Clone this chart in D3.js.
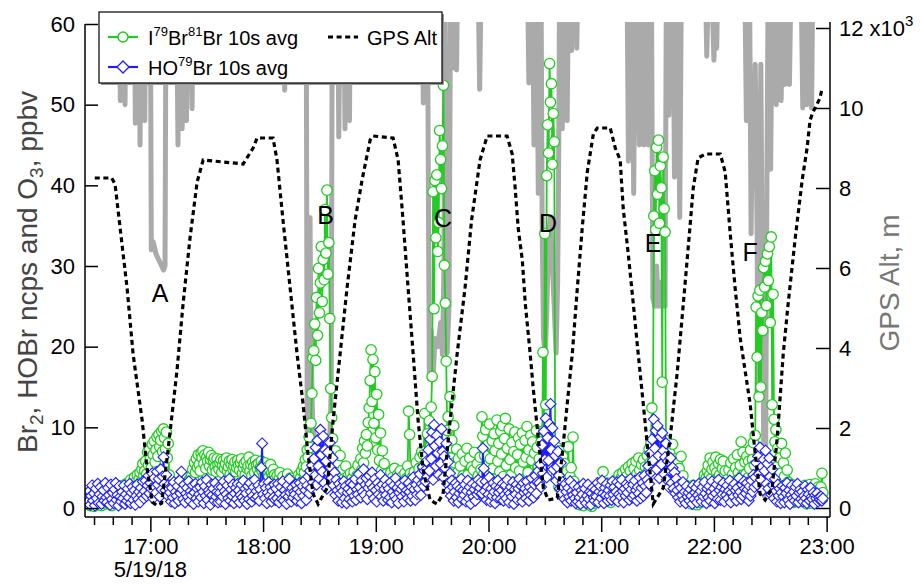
<!DOCTYPE html>
<html><head><meta charset="utf-8">
<script src="https://cdn.jsdelivr.net/npm/d3@7"></script>
<style>
body{margin:0;background:#fff;}
svg{display:block;font-family:"Liberation Sans",Arial,Helvetica,sans-serif;}
</style></head><body>
<svg id="chart" width="922" height="585"></svg>
<script>
// ---------------- DATA ----------------
// 10 s averaged signals, read at 30 s steps starting 16:27 (minutes after 16:00)
const seriesStartMin = 27;
const seriesStepMin = 0.5;

// I79Br81Br (Br2) signal, ncps
const brValues = [
0.5,1.2,0.3,2.0,0.8,1.5,0.2,1.0,2.4,0.6,1.3,0.4,1.8,0.9,0.3,1.6,2.2,0.7,1.1,0.5,
1.4,0.6,2.1,0.9,1.7,0.3,1.2,2.5,0.8,1.5,1.0,2.3,0.5,1.8,2.7,1.2,0.7,2.0,1.4,2.9,
1.6,2.4,3.1,1.9,2.8,3.5,2.2,1.5,3.0,3.8,2.6,3.3,4.1,2.9,3.6,4.4,3.2,4.8,5.5,4.0,
4.6,5.8,4.2,6.9,5.3,7.4,6.1,5.0,7.9,6.6,8.3,5.7,7.2,8.8,6.4,9.1,7.6,8.4,9.5,7.0,
9.8,8.7,7.3,9.4,6.2,8.0,4.1,2.6,1.4,2.8,1.1,2.5,1.8,0.9,2.7,1.5,3.2,2.0,1.2,2.6,
3.0,1.6,2.4,1.0,2.9,1.8,3.3,2.2,3.6,2.7,4.0,4.8,3.5,5.6,4.4,6.1,5.0,6.6,5.4,4.6,
6.8,6.2,7.1,5.5,6.6,4.9,6.3,5.8,6.9,5.2,6.0,6.5,4.7,5.9,6.2,5.1,4.5,6.1,5.4,4.8,
5.6,6.0,4.4,5.3,5.9,4.9,5.5,6.2,4.6,5.1,5.8,4.2,5.4,6.0,4.8,5.2,5.7,4.5,5.0,5.9,
5.3,4.7,5.6,6.1,4.3,5.0,5.5,4.1,5.8,4.9,5.2,6.3,4.6,5.4,4.0,5.7,5.1,4.4,5.9,5.3,
4.8,5.5,4.2,5.0,5.8,4.6,5.3,4.0,5.6,4.9,4.4,5.1,3.8,4.7,5.4,4.3,3.9,4.8,4.1,3.6,
3.2,4.0,2.7,3.6,4.4,2.3,3.1,3.9,2.6,1.8,3.4,2.9,4.2,2.1,3.0,3.7,2.4,1.6,3.3,2.8,
2.5,3.5,1.9,3.0,4.1,2.6,3.8,4.6,3.3,5.2,4.4,6.0,5.1,7.2,6.3,8.8,7.5,10.5,14.2,18.6,
19.5,22.8,18.3,26.1,21.4,29.7,24.2,27.9,32.4,25.6,30.8,28.3,37.0,31.6,39.4,29.0,32.9,23.5,14.8,11.2,
8.6,6.3,4.9,7.1,3.8,5.6,2.9,4.4,6.5,3.3,2.4,4.8,3.6,2.1,5.2,2.8,3.9,1.7,3.0,4.3,
2.6,3.7,1.9,4.5,3.1,2.2,4.0,5.3,3.4,2.8,6.1,4.7,7.4,5.6,8.3,6.8,9.1,7.7,10.6,12.4,
15.8,19.6,13.2,18.4,10.5,16.9,8.7,14.1,7.2,11.6,5.9,9.3,4.6,7.1,3.8,5.5,2.9,4.2,3.3,2.5,
3.6,2.1,4.4,2.9,3.8,1.6,4.9,3.2,2.5,4.1,3.5,2.0,4.6,2.7,3.9,1.8,3.1,4.3,2.4,3.7,
5.2,12.0,9.1,4.3,2.6,3.8,2.2,4.5,3.0,5.6,3.4,2.5,4.9,6.3,3.7,7.0,5.1,6.6,11.7,5.4,
6.4,9.2,5.1,10.8,7.6,12.5,16.3,39.2,24.7,40.6,33.5,41.3,31.8,35.4,46.8,43.2,39.6,44.9,52.4,30.1,
25.4,18.2,9.6,11.3,7.5,13.8,6.2,8.4,4.8,10.2,5.6,3.9,7.3,4.4,6.1,2.8,5.2,3.5,6.7,4.0,
2.3,5.8,3.6,7.4,4.1,1.8,6.2,3.0,5.1,2.6,4.7,6.9,3.3,1.5,5.5,4.0,2.2,6.3,4.8,11.3,
8.9,4.2,6.5,9.7,3.1,7.8,5.4,10.4,6.1,2.7,8.3,4.9,9.2,7.1,3.6,10.9,5.8,8.0,4.5,9.5,
6.7,10.2,3.9,8.6,11.1,5.3,7.4,2.4,9.8,6.0,4.1,8.1,3.2,7.0,9.4,5.0,2.9,6.6,8.7,4.6,
7.9,3.5,9.3,5.7,2.8,8.4,6.3,10.1,4.4,7.2,3.1,9.0,5.9,8.2,2.5,6.8,4.0,9.6,7.5,5.2,
6.1,3.4,8.2,5.0,19.3,9.6,34.0,12.8,41.2,47.5,44.0,55.1,50.3,52.6,42.6,48.9,45.4,6.8,3.9,7.5,
5.2,2.6,7.1,4.0,3.1,6.4,2.2,5.5,3.7,1.9,4.6,7.6,2.8,3.9,5.0,2.1,8.8,3.3,1.6,2.5,
1.2,0.6,1.8,0.4,1.4,0.9,2.0,0.3,1.1,1.6,0.7,1.9,0.5,1.3,0.8,1.7,0.2,1.0,1.5,0.6,
1.4,0.8,2.1,1.2,2.6,1.7,0.9,2.3,4.5,1.5,2.8,1.0,2.0,3.1,1.3,2.4,0.7,1.9,2.9,1.6,
2.2,3.0,1.6,3.5,2.5,4.1,2.9,3.7,1.8,4.4,3.2,2.6,4.8,3.9,2.3,5.1,3.4,4.6,2.8,5.5,
3.6,4.9,2.9,5.8,4.2,3.1,6.2,4.7,3.5,5.4,2.7,6.0,4.0,5.1,3.3,6.5,4.5,7.3,5.6,8.1,
12.4,6.3,36.2,41.8,34.5,44.7,38.9,45.6,35.3,42.4,39.7,15.6,43.5,37.1,34.2,8.4,5.9,7.6,4.3,6.8,
3.5,5.2,7.9,4.6,2.7,6.1,3.8,5.5,2.4,4.9,3.1,6.4,2.2,4.0,1.6,2.9,1.2,2.5,0.8,1.9,
1.1,2.3,0.5,1.7,2.8,0.9,1.4,2.1,0.4,1.8,1.0,2.6,0.7,1.5,2.2,3.4,4.1,2.9,3.8,4.6,
5.3,4.0,6.2,3.6,4.8,5.7,3.2,5.0,6.3,4.4,3.7,5.5,4.1,6.0,3.4,4.9,5.8,3.9,4.6,2.8,
3.5,2.4,4.7,3.0,5.6,2.7,4.2,6.1,3.3,5.0,2.9,6.6,4.4,3.6,5.3,8.2,4.0,6.9,3.1,5.7,
4.2,6.4,3.7,5.8,4.9,7.2,3.4,6.0,8.1,5.3,9.0,24.9,18.7,26.3,13.8,27.0,15.0,24.2,22.0,29.8,
27.4,30.6,25.1,31.5,28.2,32.4,23.0,33.6,12.8,26.5,11.0,8.2,9.7,5.1,7.4,3.5,6.2,4.3,8.0,2.7,
5.6,3.9,6.8,2.5,4.7,3.2,1.8,2.6,1.1,2.9,1.5,0.7,2.2,1.3,2.7,0.9,1.9,2.4,1.0,1.6,
2.1,0.8,1.7,2.8,1.2,0.5,2.3,1.5,2.9,1.0,1.8,0.6,2.5,1.4,3.0,1.1,2.0,2.6,1.7,2.4,
2.6,4.3,1.9];

// HO79Br signal, ncps
const hobrValues = [
0.8,2.1,0.4,1.5,2.8,0.9,1.8,0.3,2.4,1.2,3.0,0.6,1.7,2.6,0.5,1.4,2.2,0.9,3.1,1.3,
0.7,2.5,1.6,0.4,2.9,1.1,1.9,0.6,2.3,3.1,1.0,1.6,0.3,2.7,1.4,0.8,2.0,1.2,2.8,0.5,
1.7,0.9,2.4,1.3,3.0,0.6,1.9,2.6,1.0,2.2,0.4,1.5,2.9,1.1,2.0,0.7,2.5,1.6,3.3,1.2,
2.1,3.4,1.5,2.8,4.0,1.8,3.1,2.4,4.3,1.2,3.7,2.6,1.9,4.5,2.9,3.6,1.4,4.8,2.3,3.9,
6.3,3.0,2.2,4.1,1.6,2.8,2.4,1.9,0.8,2.5,1.3,3.2,0.6,2.0,1.5,2.7,0.9,3.4,1.8,4.5,
2.3,1.1,2.9,0.7,1.8,2.5,1.4,3.3,0.9,2.1,1.6,2.8,0.5,1.9,3.0,1.2,2.4,0.8,1.7,2.6,
1.3,3.2,2.0,0.6,2.7,1.5,3.5,1.0,2.2,1.8,0.4,2.9,1.6,2.4,0.9,3.1,1.4,2.0,0.7,2.6,
1.9,0.8,2.6,1.4,3.3,2.1,0.5,1.7,2.8,1.2,3.6,0.9,2.3,1.5,2.9,0.6,1.8,2.5,1.1,3.0,
2.2,0.7,1.6,2.9,1.3,3.4,0.9,2.4,1.8,0.5,2.7,1.1,3.1,2.0,0.8,1.5,2.6,3.5,1.2,2.1,
1.4,2.8,0.9,2.3,5.0,8.0,1.7,3.0,1.2,2.5,0.6,1.9,3.2,1.5,2.6,0.8,2.1,1.3,2.9,1.0,
2.4,1.2,3.0,0.7,1.8,2.6,1.1,3.3,0.9,2.2,1.6,0.5,2.8,1.4,3.6,1.9,0.8,2.5,1.3,2.0,
1.7,2.9,0.9,2.3,1.4,3.1,2.0,0.6,2.7,1.5,3.4,2.2,1.0,2.8,3.9,1.8,4.6,2.5,5.3,3.2,
6.1,4.0,7.5,2.9,8.4,5.2,3.6,9.7,6.6,4.5,8.9,3.1,7.2,5.8,2.4,6.9,4.3,8.1,5.0,3.7,
6.2,2.8,4.4,1.6,3.5,2.2,0.9,3.0,1.8,2.5,0.7,2.1,3.3,1.2,2.7,0.6,1.9,2.4,1.1,3.1,
2.0,0.8,2.9,1.5,3.6,1.0,2.3,1.7,4.2,2.6,1.3,3.4,2.0,4.8,1.6,2.9,3.7,1.1,2.5,4.0,
3.0,1.8,4.4,2.5,1.2,3.6,2.2,0.8,3.1,1.7,2.6,4.1,1.4,2.9,0.9,2.3,3.5,1.6,2.8,1.0,
2.4,1.3,3.2,0.7,2.0,2.8,1.5,3.7,1.1,2.5,0.6,1.9,3.0,2.3,1.4,2.7,0.8,3.4,1.8,2.2,
1.2,3.1,2.0,0.9,2.6,1.5,3.8,2.3,1.0,2.9,1.7,3.5,2.4,4.2,1.6,3.0,5.1,2.7,4.6,3.3,
5.8,3.9,7.2,4.6,8.5,6.1,9.4,3.5,10.3,7.7,5.2,9.0,6.8,4.1,8.2,5.5,9.8,7.0,3.8,6.4,
4.9,8.0,3.0,5.7,2.2,4.3,1.5,3.4,2.6,0.9,2.0,3.1,1.3,2.7,0.7,1.8,2.4,3.6,1.1,2.2,
1.6,2.9,0.8,2.1,3.4,1.2,2.6,0.5,1.9,3.0,1.4,2.3,0.9,2.8,1.7,3.5,2.0,2.5,3.2,1.8,
7.4,4.9,2.1,3.3,1.0,2.6,1.7,3.8,0.8,2.4,1.5,3.1,2.0,0.6,2.7,1.3,3.4,1.9,2.5,1.1,
2.2,3.0,0.9,1.6,2.8,1.2,3.5,2.1,0.7,1.8,2.6,1.4,3.2,0.5,2.3,1.7,2.9,1.0,2.4,3.6,
1.5,2.7,0.8,3.1,1.9,2.4,1.2,3.3,2.0,0.9,2.6,1.6,3.7,2.2,1.3,2.9,4.0,1.8,3.2,4.6,
3.1,5.4,2.6,7.8,4.3,9.5,6.0,11.1,3.8,8.7,5.9,10.4,12.9,7.2,9.9,4.8,8.3,6.5,3.4,5.1,
7.0,4.0,2.4,5.6,1.8,3.2,2.6,1.1,3.0,2.0,0.7,2.5,1.4,3.3,0.9,2.1,1.6,2.8,1.2,0.6,
1.9,0.8,2.6,1.3,0.5,2.2,1.7,3.0,1.0,2.4,0.6,1.5,2.9,1.1,2.0,0.4,1.8,2.5,1.3,0.9,
2.3,1.4,3.1,0.7,2.0,2.7,1.2,3.4,1.8,0.6,2.5,1.6,3.0,0.9,2.2,1.5,2.8,1.0,3.3,1.7,
2.6,1.1,2.0,3.2,0.8,1.7,2.9,1.4,3.5,2.1,0.7,2.4,1.5,3.0,1.9,2.7,1.0,3.6,2.3,1.3,
2.9,1.6,3.4,2.2,0.9,2.6,1.8,3.8,1.2,2.5,3.1,1.5,4.0,2.7,1.9,3.5,5.2,3.0,6.8,4.4,
8.5,5.9,11.0,7.4,9.6,4.8,10.2,6.5,3.7,8.8,5.4,9.3,7.1,4.2,6.3,8.0,3.5,5.8,2.6,4.7,
6.2,3.1,5.0,2.4,4.4,1.8,3.6,2.2,1.3,2.9,0.8,2.5,1.6,3.2,1.0,2.0,0.6,2.7,1.4,1.9,
0.9,2.3,1.5,0.5,2.8,1.1,1.9,2.5,0.7,1.6,3.0,1.2,2.1,0.8,2.6,1.4,3.2,1.8,0.6,2.4,
1.3,2.7,0.9,2.0,3.3,1.5,2.4,0.6,1.8,2.9,1.1,3.5,2.2,1.0,2.6,1.7,3.1,0.8,2.3,1.6,
2.8,1.2,2.1,3.4,0.7,1.9,2.6,1.4,3.0,2.2,0.9,2.5,1.6,3.7,2.0,1.1,2.9,1.5,3.3,2.4,
1.8,3.1,2.3,0.9,2.7,1.5,3.4,2.0,4.1,2.6,3.8,5.6,2.9,6.4,4.2,7.5,3.5,5.1,2.2,6.0,
4.6,7.1,3.0,5.5,2.4,6.2,3.9,1.7,4.8,2.8,1.2,3.6,2.1,0.8,2.9,1.5,2.4,0.6,1.9,2.7,
1.4,0.7,2.5,1.8,3.1,1.0,2.2,0.5,1.6,2.8,1.2,2.0,0.9,2.6,1.5,3.0,0.7,1.9,2.3,1.1,
2.0,0.8,1.5,2.7,1.2,0.6,2.3,1.7,0.9,2.5,1.4,1.1,1.9,0.5,1.6,1.2,1.8,0.8,1.3,1.0,
1.4,0.9,1.2];

// O3 (ppbv), minutes after 16:00 and value (values above 60 run off the top)
const o3Min = [26,
43.5,44,44.6,46,46.5,47,
51.5,52,52.6,54,54.5,55,56.5,57,57.5,
60,60.5,61.5,63,65,67,67.8,68.3,
74,74.7,75.3,76.4,76.9,77.4,
78.5,79.2,80,81.5,82.2,82.8,
131,131.5,132,
140,141,141.5,143,143.5,144,145,145.5,146.5,148,150,152,154,155.5,156.3,156.8,157.5,159.8,160.3,161,163,163.6,164.2,165.5,166,166.5,
204.5,205.3,206,207.5,208.5,209.5,210.5,211.5,213,214.5,215.5,216.3,216.8,218,219,219.8,220.5,221.2,222.5,223,223.5,
234.5,235.3,236,
260.8,261.5,262.2,263.5,264.2,264.8,265.8,266.5,267.2,268,268.6,269.3,270.2,271,272,273,273.8,274.8,276,276.8,277.3,277.8,278.6,279.3,280,281.3,281.9,282.5,283.6,284.2,284.8,286.5,287,287.5,
313.8,314.5,315.2,316.5,317.3,318,319.5,320.3,321,322,322.7,323.4,324.3,325,325.7,326.8,327.5,328.5,329.5,330.3,331.2,332,333,334,334.6,335.3,336,336.8,338.3,339,339.8,341,341.8,342.6,343.5,
355.5,356.2,357,359,360,360.8,361.5,362,
376.5,377.3,378,379,379.8,380.5,381.3,382,383,383.5,384.2,385,386,386.8,387.5,388.2,388.8,389.5,390.2,391,392.5,393.2,394,395,395.8,396.5,397.2,397.8,398.5,399.5,400.2,401,403,406.5,407.3,408,409,409.5,410.2,411.5,412,412.6,418];
const o3Val = [66,
66,50.5,64,62,50,63,
65,47.7,63,64,45,62,64,48,64,
64,32,33,31.5,30.5,29.5,30,62,
64,45,63,64,47,63,
64,48,63,65,49.5,64,
65,51.8,65,
64,55,63,60,9.5,18,36,20,10,8,7.5,8.5,9,8,15,62,65,64,46,63,65,47,64,64,48,65,
64,50.2,63,64,16,22,16,21,20,23,19,30,64,19.2,25,64,54.5,65,64,54.3,65,
65,51.9,64,
65,52.7,64,64,45,62,63,39,60,64,34,21,19,24,34,36,31,26,19.2,28,41,63,64,47,63,64,48,64,64,56.7,65,64,57,65,
64,43,63,64,39,62,63,45,63,64,45,62,63,45,60,62,26,25,30,25,28,25,27,25,60,64,48.7,63,64,41,63,64,36,63,65,
65,56,64,64,55.5,62,57,65,
64,48,62,64,34,50,40,55,34,13.4,35,55,20,1.5,3,40,62,64,42,63,64,50,63,64,50.5,63,64,52.5,62,56,52.5,65,66,64,49.6,63,62,50,65,64,49.6,65,66];

// GPS altitude (m), minutes after 16:00
const altMin = [30.4,39.4,41.2,43.9,47.6,50.8,55.6,58.2,61.0,63.5,66.0,69.4,74.2,77.4,81.1,84.9,88.1,109.4,114.7,116.8,
125.3,127.4,130.6,134.4,138.1,141.3,143.9,146.6,149.3,154.1,157.3,161.0,164.7,169.0,172.7,177.0,178.6,189.2,191.9,194.5,
197.2,199.9,202.5,205.2,208.9,212.6,215.8,219.6,223.3,227.5,231.0,235.5,239.3,249.9,252.6,254.2,255.8,258.0,259.6,262.2,
263.8,266.5,269.2,271.8,276.6,279.3,281.9,284.6,287.3,289.9,292.6,295.8,297.9,304.8,307.5,310.1,311.7,314.4,317.1,319.7,
322.4,325.0,327.7,333.0,336.7,340.5,343.7,346.3,349.0,351.6,355.4,363.4,366.0,368.7,371.3,374.0,376.7,379.3,382.0,384.6,
387.3,391.0,393.7,396.9,399.5,403.3,407.0,409.6,411.2,412.8,416.5,417.6];
const altVal = [8250,8250,8100,7000,5500,3850,2200,1000,150,60,120,1450,3450,5100,6750,8150,8700,8600,9000,9250,
9250,8700,7200,5500,3850,2600,1350,350,100,500,2200,3850,5500,7200,8200,9200,9300,9250,8700,7200,
5500,3850,2200,950,200,100,350,2200,3850,5500,7200,8700,9300,9300,8850,8000,7000,6200,5100,3850,
3000,1750,500,200,250,1350,2600,3850,5500,7000,8400,9350,9500,9500,9000,8700,7500,6350,5100,3850,
2600,1350,100,500,1750,3400,5100,6500,8000,8750,8850,8850,8400,6850,5500,4250,3400,2600,1350,350,
200,500,1750,3850,5100,6750,8200,9000,9700,9900,10250,10500];

const hourTickLabels = ["17:00","18:00","19:00","20:00","21:00","22:00","23:00"];
const minorTickFrom = "16:30", minorTickTo = "23:00";
const dateLabel = "5/19/18";
const leftTicks = [0,10,20,30,40,50,60];
const rightTicks = [0,2000,4000,6000,8000,10000,12000];
const profileNames = ["A","B","C","D","E","F"];
const profileMin = [65.2,153.3,215.8,271.7,327.6,379.3];
const profileVal = [26.6,36.3,35.9,35.3,32.8,31.7];

// ---------------- CHART ----------------
const base = new Date(2018,4,19,16,0,0);
const atMin = m => new Date(base.getTime() + m*60000);
const clock = s => { const p = s.split(":").map(Number); return new Date(2018,4,19,p[0],p[1],0); };

const L = 85, R = 830, B = 517;
const x = d3.scaleTime().domain([atMin(25.2), atMin(421.8)]).range([L, R]);
const yL = d3.scaleLinear().domain([0, 60]).range([508, 24]);
const yR = d3.scaleLinear().domain([0, 12000]).range([508, 28]);

const GREEN = "#22cc22", BLUE = "#1e1eff", GRAY = "#aaaaaa";
const svg = d3.select("#chart");
svg.append("defs").append("clipPath").attr("id","plotclip")
  .append("rect").attr("x", L).attr("y", 22).attr("width", R - L).attr("height", B - 22);
const plot = svg.append("g").attr("clip-path","url(#plotclip)");

// O3 trace
const o3 = o3Min.map((m,i) => ({t: atMin(m), v: o3Val[i]}));
plot.append("path").datum(o3)
  .attr("d", d3.line().x(d => x(d.t)).y(d => yL(d.v)))
  .attr("fill","none").attr("stroke",GRAY).attr("stroke-width",5)
  .attr("stroke-linejoin","round");

const toSeries = arr => arr.map((v,i) => ({t: atMin(seriesStartMin + i*seriesStepMin), v}));
const br = toSeries(brValues);
const hobr = toSeries(hobrValues);
const lineL = d3.line().x(d => x(d.t)).y(d => yL(d.v));
const diamond = r => `M0,${-r}L${r},0L0,${r}L${-r},0Z`;

// green trace
plot.append("path").datum(br).attr("d", lineL)
  .attr("fill","none").attr("stroke",GREEN).attr("stroke-width",1.8);
plot.append("g").selectAll("circle").data(br).join("circle")
  .attr("cx", d => x(d.t)).attr("cy", d => yL(d.v)).attr("r", 5.2)
  .attr("fill","#fff").attr("stroke",GREEN).attr("stroke-width",1.3);

// blue trace
plot.append("path").datum(hobr).attr("d", lineL)
  .attr("fill","none").attr("stroke",BLUE).attr("stroke-width",1.8);
plot.append("g").selectAll("path").data(hobr).join("path")
  .attr("transform", d => `translate(${x(d.t)},${yL(d.v)})`)
  .attr("d", diamond(5.5))
  .attr("fill","#fff").attr("stroke",BLUE).attr("stroke-width",1.1);

// GPS altitude
const alt = altMin.map((m,i) => ({t: atMin(m), v: altVal[i]}));
plot.append("path").datum(alt)
  .attr("d", d3.line().x(d => x(d.t)).y(d => yR(d.v)))
  .attr("fill","none").attr("stroke","#000").attr("stroke-width",3.2)
  .attr("stroke-dasharray","5,3.6");

// profile letters
svg.append("g").selectAll("text").data(profileNames).join("text")
  .attr("x", (d,i) => x(atMin(profileMin[i])))
  .attr("y", (d,i) => yL(profileVal[i]))
  .attr("dy","0.36em").attr("text-anchor","middle")
  .attr("font-size",25).attr("fill","#000").text(d => d);

// axes
const styleAxis = g => {
  g.attr("font-size",22).attr("font-family","'Liberation Sans',Arial,sans-serif");
  g.select(".domain").remove();
  g.selectAll("line").attr("stroke","#000").attr("stroke-width",1.5);
  g.selectAll("text").attr("fill","#000");
};
svg.append("g").attr("transform",`translate(${L},0)`)
  .call(d3.axisLeft(yL).tickValues(leftTicks).tickSize(-13).tickPadding(10).tickSizeOuter(0))
  .call(styleAxis);
const rAx = svg.append("g").attr("transform",`translate(${R},0)`)
  .call(d3.axisRight(yR).tickValues(rightTicks).tickSize(-14).tickPadding(9).tickSizeOuter(0)
        .tickFormat(d => d/1000))
  .call(styleAxis);
rAx.selectAll(".tick text").filter(d => d === 12000).each(function(){
  const t = d3.select(this); t.text("12 x10");
  t.append("tspan").attr("dy",-10).attr("font-size",15).text("3");
});

const hourDates = hourTickLabels.map(clock);
const minorDates = d3.timeMinute.every(10).range(clock(minorTickFrom), new Date(clock(minorTickTo).getTime()+1000))
  .filter(d => d.getMinutes() !== 0);
svg.append("g").attr("transform",`translate(0,${B})`)
  .call(d3.axisBottom(x).tickValues(minorDates).tickSize(8).tickFormat(() => "").tickSizeOuter(0))
  .call(styleAxis);
svg.append("g").attr("transform",`translate(0,${B})`)
  .call(d3.axisBottom(x).tickValues(hourDates).tickSize(15).tickPadding(6)
        .tickFormat((d,i) => hourTickLabels[i]).tickSizeOuter(0))
  .call(styleAxis);
svg.append("text").attr("x", x(hourDates[0])).attr("y", 577)
  .attr("text-anchor","middle").attr("font-size",22).attr("fill","#000").text(dateLabel);

// frame lines
const frame = svg.append("g").attr("stroke","#000").attr("stroke-width",1.5);
frame.append("line").attr("x1",L).attr("x2",L).attr("y1",yL(60)).attr("y2",B);
frame.append("line").attr("x1",R).attr("x2",R).attr("y1",22).attr("y2",B);
frame.append("line").attr("x1",L).attr("x2",R).attr("y1",B).attr("y2",B);

// axis titles
const lt = svg.append("text").attr("transform","translate(27,272) rotate(-90)")
  .attr("text-anchor","middle").attr("dy","0.35em").attr("font-size",28).attr("fill","#444");
lt.append("tspan").text("Br");
lt.append("tspan").attr("font-size",19).attr("dy",6).text("2");
lt.append("tspan").attr("dy",-6).text(", HOBr ncps and O");
lt.append("tspan").attr("font-size",19).attr("dy",6).text("3");
lt.append("tspan").attr("dy",-6).text(", ppbv");
svg.append("text").attr("transform","translate(889,283) rotate(-90)")
  .attr("text-anchor","middle").attr("dy","0.35em").attr("font-size",28).attr("fill","#777")
  .text("GPS Alt, m");

// legend
const lg = svg.append("g");
lg.append("rect").attr("x",101).attr("y",14).attr("width",343).attr("height",71).attr("fill","#999");
lg.append("rect").attr("x",99).attr("y",12).attr("width",343).attr("height",71)
  .attr("fill","#fff").attr("stroke","#000").attr("stroke-width",1.2);
lg.append("line").attr("x1",108).attr("x2",138).attr("y1",37).attr("y2",37).attr("stroke",GREEN).attr("stroke-width",2.2);
lg.append("circle").attr("cx",123).attr("cy",37).attr("r",5).attr("fill","#fff").attr("stroke",GREEN).attr("stroke-width",1.5);
lg.append("line").attr("x1",108).attr("x2",138).attr("y1",67).attr("y2",67).attr("stroke",BLUE).attr("stroke-width",2.2);
lg.append("path").attr("transform","translate(123,67)").attr("d",diamond(6)).attr("fill","#fff").attr("stroke",BLUE).attr("stroke-width",1.3);
lg.append("line").attr("x1",328).attr("x2",358).attr("y1",37).attr("y2",37).attr("stroke","#000")
  .attr("stroke-width",3.2).attr("stroke-dasharray","5,3.6");
const t1 = lg.append("text").attr("x",148).attr("y",45).attr("font-size",20).attr("fill","#000");
t1.append("tspan").text("I");
t1.append("tspan").attr("dy",-9).attr("font-size",13).text("79");
t1.append("tspan").attr("dy",9).text("Br");
t1.append("tspan").attr("dy",-9).attr("font-size",13).text("81");
t1.append("tspan").attr("dy",9).text("Br 10s avg");
const t2 = lg.append("text").attr("x",148).attr("y",75).attr("font-size",20).attr("fill","#000");
t2.append("tspan").text("HO");
t2.append("tspan").attr("dy",-9).attr("font-size",13).text("79");
t2.append("tspan").attr("dy",9).text("Br 10s avg");
lg.append("text").attr("x",367).attr("y",45).attr("font-size",20).attr("fill","#000").text("GPS Alt");
</script>
</body></html>
